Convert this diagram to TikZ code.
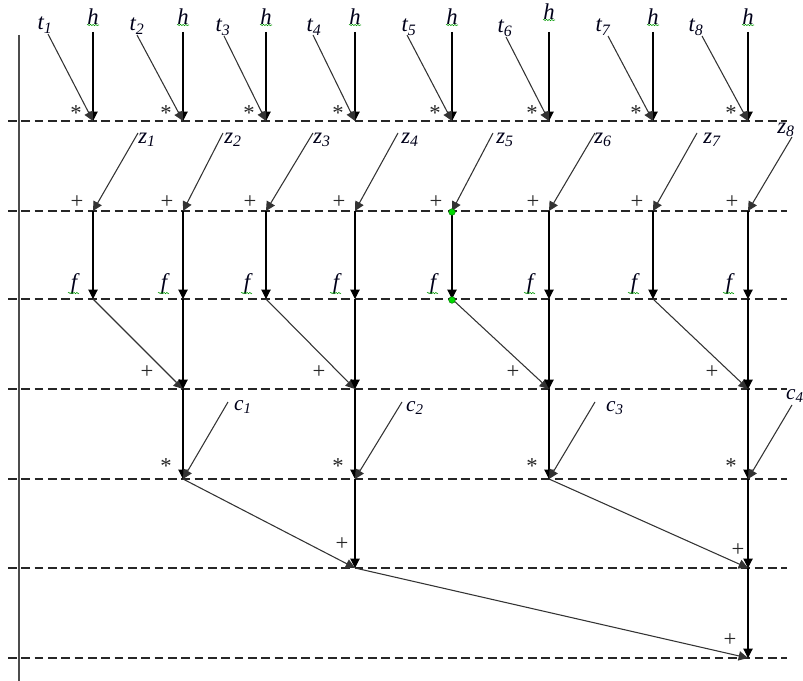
\documentclass[tikz,border=0pt]{standalone}
\usepackage{fontspec}
\setmainfont{Liberation Serif}
\usetikzlibrary{arrows.meta,decorations.pathmorphing}
\begin{document}
\begin{tikzpicture}[x=0.75pt,y=-0.75pt,
  lab/.style={font=\fontsize{17}{19}\selectfont\itshape, inner sep=0pt, text=black!90!blue},
  clab/.style={font=\fontsize{16}{18}\selectfont\itshape, inner sep=0pt, text=black!90!blue},
  op/.style={font=\fontsize{17}{19}\selectfont, inner sep=0pt, text=black!85},
  vline/.style={line width=0.8pt, black, -{Triangle[width=7pt,length=7pt]}},
  dline/.style={line width=0.8pt, black!80, -{Triangle[width=7pt,length=7pt]}},
  gridline/.style={dash pattern=on 6.5pt off 3.5pt, line width=0.85pt, black!85},
  wavy/.style={green!60!black, line width=0.4pt, decorate, decoration={snake, amplitude=0.5pt, segment length=2pt}},
  gdot/.style={circle, fill=green!85!black, draw=green!40!black, line width=0.3pt, inner sep=0pt, minimum size=5pt},
]
\useasboundingbox (0,0) rectangle (803,681);

% horizontal dashed levels and junctions
\foreach \y [count=\r] in {121,211,299,389,479,568,658} {
  \coordinate (L\r) at (8,\y);
  \coordinate (R\r) at (787,\y);
  \draw[gridline] (L\r) -- (R\r);
  \foreach \x [count=\c] in {93,183,266,355,452,549,653,748}
    \coordinate (j\r-\c) at (\x,\y);
}

% left axis
\coordinate (axtop) at (19,35);
\coordinate (axbot) at (19,681);
\draw[black!70, line width=0.8pt] (axtop) -- (axbot);

% h inputs
\foreach \x/\hy [count=\c] in {93/17,183/17,266/17,355/17,452/17,549/12,653/17,748/17} {
  \node[lab] (h\c) at (\x,\hy) {h};
  \draw[wavy] (\x-6,\hy+8) -- (\x+6,\hy+8);
  \coordinate (hs\c) at (\x,32);
  \draw[vline] (hs\c) -- (j1-\c);
}

% t inputs
\foreach \c/\lx/\ly/\sx/\sy in {1/45/25/48/34, 2/137/26/137/35, 3/223/27/224/36, 4/314/27/313/35,
    5/409/27/407/35, 6/505/28/506/37, 7/603/27/608/36, 8/696/27/702/36} {
  \node[lab] (t\c) at (\lx,\ly) {t\textsubscript{\c}};
  \coordinate (ts\c) at (\sx,\sy);
  \draw[dline] (ts\c) -- (j1-\c);
}

% row 1 stars, row 2 pluses
\foreach \x [count=\c] in {93,183,266,355,452,549,653,748} {
  \node[op] (s1-\c) at (\x-17,113) {*};
  \node[op] (p2-\c) at (\x-16,202) {+};
}

% z inputs
\foreach \c/\lx/\ly/\sx/\sy in {1/147/140/138/133, 2/233/140/223/133, 3/322/140/313/133, 4/410/140/398/133,
    5/505/140/493/133, 6/603/140/595/133, 7/712/140/697/133, 8/786/130/792/137} {
  \node[lab] (z\c) at (\lx,\ly) {z\textsubscript{\c}};
  \coordinate (zs\c) at (\sx,\sy);
  \draw[dline] (zs\c) -- (j2-\c);
}

% row 2 -> row 3 (f)
\foreach \x [count=\c] in {93,183,266,355,452,549,653,748} {
  \draw[vline] (j2-\c) -- (j3-\c);
  \node[lab] (f\c) at (\x-19,284) {f};
  \draw[wavy] (\x-25,293) -- (\x-14,293);
}

% row 3 -> row 4 (pairwise sums)
\foreach \a/\b/\x in {1/2/183, 3/4/355, 5/6/549, 7/8/748} {
  \draw[dline] (j3-\a) -- (j4-\b);
  \draw[vline] (j3-\b) -- (j4-\b);
  \node[op] (p4-\b) at (\x-36,372) {+};
}

% row 4 -> row 5 (times c)
\foreach \b/\x in {2/183, 4/355, 6/549, 8/748} {
  \draw[vline] (j4-\b) -- (j5-\b);
  \node[op] (s5-\b) at (\x-17,466) {*};
}
\foreach \b/\n/\lx/\ly/\sx/\sy in {2/1/243/407/228/402, 4/2/415/408/402/402, 6/3/615/408/595/402, 8/4/795/396/792/405} {
  \node[clab] (c\n) at (\lx,\ly) {c\textsubscript{\n}};
  \coordinate (cs\n) at (\sx,\sy);
  \draw[dline] (cs\n) -- (j5-\b);
}

% row 5 -> row 6
\draw[dline] (j5-2) -- (j6-4);
\draw[vline] (j5-4) -- (j6-4);
\draw[dline] (j5-6) -- (j6-8);
\draw[vline] (j5-8) -- (j6-8);
\node[op] (p6-4) at (342,544) {+};
\node[op] (p6-8) at (738,550) {+};

% row 6 -> row 7
\draw[dline] (j6-4) -- (j7-8);
\draw[vline] (j6-8) -- (j7-8);
\node[op] (p7-8) at (730,640) {+};

% green markers
\node[gdot] (g1) at (452,212) {};
\node[gdot] (g2) at (452,300) {};
\end{tikzpicture}
\end{document}
